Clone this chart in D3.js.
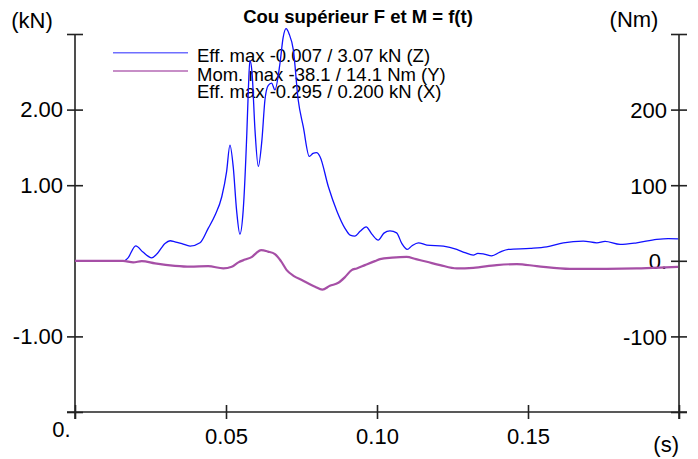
<!DOCTYPE html>
<html>
<head>
<meta charset="utf-8">
<script src="https://cdn.jsdelivr.net/npm/d3@7"></script>
<style>
  html, body { margin: 0; padding: 0; background: #fff; }
  svg { display: block; }
  text { font-family: "Liberation Sans", Arial, sans-serif; fill: #000; }
</style>
</head>
<body>
<svg id="chart" width="698" height="459"></svg>
<script>
// Time samples (s)
const timeZ = [0, 0.0159, 0.0175, 0.0201, 0.0225, 0.0254, 0.0271, 0.0298, 0.0315, 0.0331, 0.0354, 0.0381,
  0.0414, 0.0441, 0.0464, 0.0486, 0.0502, 0.0513, 0.0524, 0.0535, 0.0546, 0.0557, 0.0569, 0.0574, 0.0579,
  0.0586, 0.0596, 0.0607, 0.0619, 0.0629, 0.0640, 0.0651, 0.0662, 0.0679, 0.0689, 0.0699, 0.0709, 0.0723,
  0.0739, 0.0756, 0.0776, 0.0788, 0.0800, 0.0811, 0.0839, 0.0867, 0.0894, 0.0911, 0.0927, 0.0944, 0.0964,
  0.0983, 0.1004, 0.1023, 0.1043, 0.1065, 0.1082, 0.1100, 0.1116, 0.1137, 0.1165, 0.1220, 0.1264, 0.1291,
  0.1319, 0.1334, 0.1354, 0.1380, 0.1407, 0.1435, 0.1507, 0.1562, 0.1617, 0.1683, 0.1728, 0.1755, 0.1805,
  0.1860, 0.1926, 0.1964, 0.1997];
// Neck axial force Z (kN)
const forceZ = [0, -0.007, 0.035, 0.198, 0.115, 0.04, 0.089, 0.23, 0.265, 0.25, 0.228, 0.194,
  0.238, 0.429, 0.605, 0.847, 1.18, 1.53, 1.24, 0.67, 0.353, 0.67, 1.69, 2.26, 2.65,
  2.50, 1.73, 1.25, 1.60, 2.13, 2.32, 2.35, 2.26, 2.62, 2.95, 3.07, 3.00, 2.79,
  2.13, 1.77, 1.38, 1.42, 1.43, 1.38, 0.98, 0.66, 0.43, 0.34, 0.327, 0.39, 0.45,
  0.353, 0.274, 0.366, 0.397, 0.37, 0.23, 0.151, 0.20, 0.238, 0.208, 0.194, 0.151, 0.108,
  0.075, 0.098, 0.089, 0.066, 0.115, 0.151, 0.164, 0.185, 0.238, 0.26, 0.238, 0.257, 0.217,
  0.238, 0.283, 0.294, 0.291];

const timeY = [0, 0.0159, 0.0193, 0.0221, 0.0265, 0.0331, 0.0381, 0.0441, 0.0491, 0.0519, 0.0541,
  0.0563, 0.0586, 0.0600, 0.0616, 0.0639, 0.0662, 0.0682, 0.0701, 0.0725, 0.0751, 0.0795, 0.0819,
  0.0844, 0.0872, 0.0894, 0.0916, 0.0933, 0.0960, 0.0993, 0.1010, 0.1050, 0.1098, 0.1129, 0.1165,
  0.1209, 0.1264, 0.1319, 0.1396, 0.1463, 0.1529, 0.1639, 0.1761, 0.1860, 0.1937, 0.1997];
// Neck moment Y (Nm)
const momentY = [0, 0, -2.1, -0.4, -3.4, -6.6, -7.7, -7.0, -10.0, -7.9, -2.1,
  1.6, 5.3, 10.2, 14.1, 12.2, 8.9, -0.4, -12.3, -20.2, -25.5, -34.4, -38.1,
  -33.1, -29.1, -21.6, -12.3, -10.1, -5.7, -0.4, 2.2, 4.2, 5.3, 2.2, -1.3,
  -5.7, -10.1, -9.3, -5.7, -4.4, -7.0, -10.6, -10.6, -10.1, -9.0, -7.9];

const forceTicks = [-2, -1, 1, 2, 3];
const forceTickLabels = ["", "-1.00", "1.00", "2.00", ""];
const momentTicks = [-200, -100, 0, 100, 200, 300];
const momentTickLabels = ["", "-100", "0.", "100", "200", ""];
const timeTicks = [0, 0.05, 0.10, 0.15, 0.20];
const timeTickLabels = ["0.", "0.05", "0.10", "0.15", ""];

const chartTitle = "Cou supérieur F et M = f(t)";
const legendLabels = [
  "Eff. max -0.007 / 3.07 kN (Z)",
  "Mom. max -38.1 / 14.1 Nm (Y)",
  "Eff. max -0.295 / 0.200 kN (X)"
];

const svg = d3.select("#chart");
const plotLeft = 75, plotRight = 679, plotTop = 34, plotBottom = 412;

const x = d3.scaleLinear().domain([0, 0.2]).range([plotLeft, plotRight]);
const yF = d3.scaleLinear().domain([-2, 3]).range([plotBottom, plotTop]);
const yM = d3.scaleLinear().domain([-200, 300]).range([plotBottom, plotTop]);

const axisColor = "#222";
const fontSize = 22;

// Title and units
svg.append("text").attr("x", 358).attr("y", 23).attr("text-anchor", "middle")
  .style("font-size", "18.5px").style("font-weight", "bold").text(chartTitle);
svg.append("text").attr("x", 32).attr("y", 28).attr("text-anchor", "middle")
  .style("font-size", fontSize + "px").text("(kN)");
svg.append("text").attr("x", 634).attr("y", 27).attr("text-anchor", "middle")
  .style("font-size", fontSize + "px").text("(Nm)");
svg.append("text").attr("x", 679).attr("y", 452).attr("text-anchor", "end")
  .style("font-size", fontSize + "px").text("(s)");

// Axis frame lines
svg.append("line").attr("x1", plotLeft).attr("x2", plotLeft).attr("y1", plotTop).attr("y2", plotBottom + 7)
  .attr("stroke", axisColor).attr("stroke-width", 1.6);
svg.append("line").attr("x1", plotRight).attr("x2", plotRight).attr("y1", plotTop).attr("y2", plotBottom + 7)
  .attr("stroke", axisColor).attr("stroke-width", 1.6);
svg.append("line").attr("x1", plotLeft - 8).attr("x2", plotRight + 8).attr("y1", plotBottom).attr("y2", plotBottom)
  .attr("stroke", axisColor).attr("stroke-width", 1.6);

function styleAxis(g) {
  g.select(".domain").remove();
  g.selectAll(".tick line").attr("stroke", axisColor).attr("stroke-width", 1.6);
  g.selectAll(".tick text").style("font-size", fontSize + "px")
    .style("font-family", '"Liberation Sans", Arial, sans-serif').attr("fill", "#000");
}

// Left force axis, ticks crossing the line
const gL = svg.append("g").attr("transform", `translate(${plotLeft},0)`)
  .call(d3.axisLeft(yF).tickValues(forceTicks).tickSize(8).tickPadding(4)
    .tickFormat((d, i) => forceTickLabels[i]));
styleAxis(gL);
gL.selectAll(".tick line").attr("x1", 8);

// Right moment axis, labels drawn on the inner side
const gR = svg.append("g").attr("transform", `translate(${plotRight},0)`)
  .call(d3.axisLeft(yM).tickValues(momentTicks).tickSize(8).tickPadding(4)
    .tickFormat((d, i) => momentTickLabels[i]));
styleAxis(gR);
gR.selectAll(".tick line").attr("x1", 8);
gR.selectAll(".tick text").attr("dy", "0.36em");

// Time axis
const gB = svg.append("g").attr("transform", `translate(0,${plotBottom})`)
  .call(d3.axisBottom(x).tickValues(timeTicks).tickSize(7).tickPadding(9.5)
    .tickFormat((d, i) => timeTickLabels[i]));
styleAxis(gB);
gB.selectAll(".tick line").attr("y1", -7);
gB.selectAll(".tick text").filter(d => d === 0)
  .attr("text-anchor", "end").attr("x", -5).attr("y", 9);

// Legend
const legendColors = ["#6f6fff", "#b468b4"];
legendColors.forEach((c, i) => {
  svg.append("line").attr("x1", 113).attr("x2", 188)
    .attr("y1", 52.7 + i * 18.3).attr("y2", 52.7 + i * 18.3)
    .attr("stroke", c).attr("stroke-width", 1.6);
});
const legendBaselines = [62, 80.5, 97.5];
legendLabels.forEach((t, i) => {
  svg.append("text").attr("x", 197).attr("y", legendBaselines[i])
    .style("font-size", "18.5px").text(t);
});

// Curves
const lineZ = d3.line().curve(d3.curveMonotoneX).x((d, i) => x(timeZ[i])).y(d => yF(d));
svg.append("path").datum(forceZ).attr("d", lineZ)
  .attr("fill", "none").attr("stroke", "#1010ff").attr("stroke-width", 1.3)
  .attr("stroke-linejoin", "round");

const lineY = d3.line().curve(d3.curveMonotoneX).x((d, i) => x(timeY[i])).y(d => yM(d));
svg.append("path").datum(momentY).attr("d", lineY)
  .attr("fill", "none").attr("stroke", "#a64fa6").attr("stroke-width", 2.2)
  .attr("stroke-linejoin", "round");
</script>
</body>
</html>
